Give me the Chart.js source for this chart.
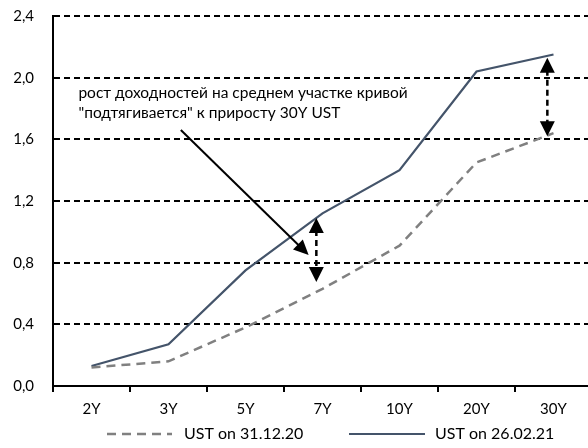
<!DOCTYPE html>
<html>
<head>
<meta charset="utf-8">
<script src="https://cdn.jsdelivr.net/npm/chart.js@4"></script>
<style>
  html, body { margin: 0; padding: 0; background: #fff; }
  #wrap { width: 588px; height: 448px; overflow: hidden; position: relative; }
  #wrap canvas { position: absolute; left: 0; top: 0; }
</style>
</head>
<body>
<div id="wrap"><canvas id="chart" width="600" height="448"></canvas></div>
<script>
// tenors on the curve
const tenors = ['2Y', '3Y', '5Y', '7Y', '10Y', '20Y', '30Y'];
// yields, %
const ust311220 = [0.12, 0.16, 0.38, 0.63, 0.91, 1.45, 1.64];
const ust260221 = [0.13, 0.27, 0.75, 1.12, 1.40, 2.04, 2.15];
const seriesNames = ['UST on 31.12.20', 'UST on 26.02.21'];
const yTicks = [0, 0.4, 0.8, 1.2, 1.6, 2.0, 2.4];

const noteLines = ['рост доходностей на среднем участке кривой', '"подтягивается" к приросту 30Y UST'];

const FONT = 'Lato, "Open Sans", sans-serif';

function arrowHead(ctx, x1, y1, x2, y2, len, wid) {
    const a = Math.atan2(y2 - y1, x2 - x1);
    ctx.beginPath();
    ctx.moveTo(x2, y2);
    ctx.lineTo(x2 - len * Math.cos(a) + wid * Math.sin(a), y2 - len * Math.sin(a) - wid * Math.cos(a));
    ctx.lineTo(x2 - len * Math.cos(a) - wid * Math.sin(a), y2 - len * Math.sin(a) + wid * Math.cos(a));
    ctx.closePath();
    ctx.fill();
}

// annotation: text, pointer and two double arrows (in data units)
const notes = {
    id: 'notes',
    afterDatasetsDraw(chart) {
        const ctx = chart.ctx;
        const xs = chart.scales.x, ys = chart.scales.y;
        const px = v => xs.getPixelForValue(0) + v * (xs.getPixelForValue(1) - xs.getPixelForValue(0));
        ctx.save();
        ctx.fillStyle = '#000';
        ctx.font = '15.5px ' + FONT;
        ctx.textBaseline = 'alphabetic';
        ctx.fillText(noteLines[0], px(-0.17), ys.getPixelForValue(1.865));
        ctx.fillText(noteLines[1], px(-0.17), ys.getPixelForValue(1.74));

        // pointer arrow
        let x1 = px(1.16), y1 = ys.getPixelForValue(1.66);
        let x2 = px(2.82), y2 = ys.getPixelForValue(0.85);
        ctx.strokeStyle = '#000';
        ctx.lineWidth = 2;
        const a = Math.atan2(y2 - y1, x2 - x1);
        ctx.beginPath();
        ctx.moveTo(x1, y1);
        ctx.lineTo(x2 - 10 * Math.cos(a), y2 - 10 * Math.sin(a));
        ctx.stroke();
        arrowHead(ctx, x1, y1, x2, y2, 15, 7);

        // double arrows
        [[2.92, 1.09, 0.675], [5.92, 2.13, 1.62]].forEach(d => {
            const x = px(d[0]);
            const top = ys.getPixelForValue(d[1]), bot = ys.getPixelForValue(d[2]);
            ctx.setLineDash([6, 4]);
            ctx.lineWidth = 2.5;
            ctx.beginPath();
            ctx.moveTo(x, top + 12);
            ctx.lineTo(x, bot - 12);
            ctx.stroke();
            ctx.setLineDash([]);
            arrowHead(ctx, x, bot, x, top, 15, 7.5);
            arrowHead(ctx, x, top, x, bot, 15, 7.5);
        });
        ctx.restore();
    }
};

// legend under the axis
const legendBelow = {
    id: 'legendBelow',
    afterDraw(chart) {
        const ctx = chart.ctx;
        const y = 434;
        const items = [[107, 172, 184], [349, 425, 435]];
        ctx.save();
        ctx.font = '16px ' + FONT;
        ctx.textBaseline = 'middle';
        ctx.fillStyle = '#000';
        chart.data.datasets.forEach((ds, i) => {
            const it = items[i];
            ctx.strokeStyle = ds.borderColor;
            ctx.lineWidth = ds.borderWidth;
            ctx.setLineDash(ds.borderDash || []);
            ctx.beginPath();
            ctx.moveTo(it[0], y);
            ctx.lineTo(it[1], y);
            ctx.stroke();
            ctx.setLineDash([]);
            ctx.fillText(ds.label, it[2], y);
        });
        ctx.restore();
    }
};

new Chart(document.getElementById('chart'), {
    type: 'line',
    data: {
        labels: tenors,
        datasets: [{
            label: seriesNames[0],
            data: ust311220,
            borderColor: '#808080',
            borderWidth: 2.5,
            borderDash: [9, 6],
            pointRadius: 0,
            tension: 0
        }, {
            label: seriesNames[1],
            data: ust260221,
            borderColor: '#44546A',
            borderWidth: 2.2,
            pointRadius: 0,
            tension: 0
        }]
    },
    options: {
        responsive: false,
        animation: false,
        layout: { padding: { top: 16, right: 8, bottom: 0, left: 0 } },
        plugins: { legend: { display: false }, tooltip: { enabled: false } },
        scales: {
            x: {
                offset: true,
                afterFit(scale) { scale.height = 62; },
                grid: { offset: true, drawOnChartArea: false, drawTicks: true, tickLength: 6, color: '#000', lineWidth: 2 },
                border: { display: true, color: '#000', width: 2 },
                ticks: { color: '#000', font: { size: 15, family: FONT }, padding: 8 }
            },
            y: {
                min: 0,
                max: 2.4,
                afterFit(scale) { scale.width = 53; },
                afterBuildTicks(scale) { scale.ticks = yTicks.map(v => ({ value: v })); },
                grid: { color: '#000', lineWidth: 2, drawTicks: true, tickLength: 19, tickColor: 'rgba(0,0,0,0)' },
                border: { display: true, color: '#000', width: 2, dash: [6, 4] },
                ticks: {
                    color: '#000',
                    padding: 0,
                    font: { size: 15, family: FONT },
                    callback: v => v.toFixed(1).replace('.', ',')
                }
            }
        }
    },
    plugins: [notes, legendBelow]
});
</script>
</body>
</html>
